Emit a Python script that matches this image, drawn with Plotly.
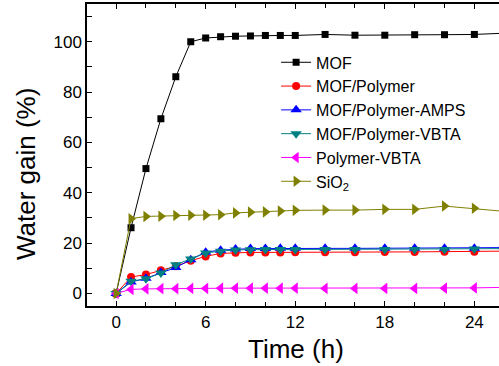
import plotly.graph_objects as go

time_h = [0, 1, 2, 3, 4, 5, 6, 7, 8, 9, 10, 11, 12, 14, 16, 18, 20, 22, 24, 26]

mof = [0, 26.1, 49.6, 69.4, 86.1, 100.0, 101.5, 102.0, 102.2, 102.3, 102.5, 102.5, 102.5, 102.9, 102.6, 102.6, 102.8, 102.8, 102.9, 103.4]
mof_polymer = [0, 6.5, 7.5, 9.2, 10.8, 13.0, 14.7, 15.9, 16.2, 16.3, 16.3, 16.3, 16.4, 16.4, 16.4, 16.5, 16.5, 16.6, 16.6, 16.8]
mof_polymer_amps = [0, 4.5, 6.0, 8.3, 10.3, 13.4, 16.4, 17.2, 17.6, 17.8, 17.8, 17.9, 17.9, 17.9, 17.9, 17.9, 17.9, 17.9, 17.9, 18.2]
mof_polymer_vbta = [0, 4.8, 5.8, 8.1, 11.4, 13.7, 16.1, 16.8, 17.3, 17.4, 17.5, 17.5, 17.5, 17.5, 17.5, 17.5, 17.5, 17.5, 17.6, 17.8]
polymer_vbta = [0, 1.6, 1.8, 1.9, 1.9, 2.0, 2.0, 2.1, 2.1, 2.1, 2.1, 2.1, 2.1, 2.0, 2.0, 2.0, 2.0, 2.1, 2.2, 2.4]
sio2 = [0, 29.7, 30.6, 30.7, 31.0, 31.1, 31.1, 31.3, 32.0, 32.3, 32.4, 32.7, 33.0, 33.1, 33.1, 33.4, 33.4, 34.7, 33.8, 32.6]

x_tick_labels = ["0", "6", "12", "18", "24"]
y_tick_labels = ["0", "20", "40", "60", "80", "100"]

series = [
    ("MOF", mof, "#000000", "square", 7),
    ("MOF/Polymer", mof_polymer, "#FF0000", "circle", 8),
    ("MOF/Polymer-AMPS", mof_polymer_amps, "#0000FF", "triangle-up", 10),
    ("MOF/Polymer-VBTA", mof_polymer_vbta, "#008080", "triangle-down", 10),
    ("Polymer-VBTA", polymer_vbta, "#FF00FF", "triangle-left", 10),
    ("SiO<sub>2</sub>", sio2, "#808000", "triangle-right", 10),
]

FONT = "Liberation Sans, Arial, sans-serif"

fig = go.Figure()
for name, vals, color, sym, sz in series:
    fig.add_trace(go.Scatter(
        x=time_h, y=vals, name=name, mode="lines+markers",
        line=dict(color=color, width=1),
        marker=dict(symbol=sym, size=sz, color=color, line=dict(width=0)),
    ))

tick_font = dict(family=FONT, size=17, color="black")

fig.update_layout(
    width=499, height=366, autosize=False,
    margin=dict(l=87, r=0, t=4, b=60),
    paper_bgcolor="white", plot_bgcolor="white",
    font=dict(family=FONT, color="black"),
    showlegend=True,
    legend=dict(
        x=0.459, y=0.863, xanchor="left", yanchor="top",
        font=dict(family=FONT, size=16, color="black"),
        bgcolor="rgba(0,0,0,0)", borderwidth=0,
        tracegroupgap=0, itemwidth=30,
    ),
    xaxis=dict(
        range=[-1.95, 25.65], tickmode="array",
        tickvals=[float(v) for v in x_tick_labels], ticktext=x_tick_labels,
        ticks="inside", ticklen=5, tickwidth=1, tickcolor="black",
        minor=dict(tickmode="linear", tick0=0, dtick=2, ticks="inside", ticklen=4, tickcolor="black", showgrid=False),
        showline=True, linecolor="black", linewidth=1.5, mirror="ticks",
        showgrid=False, zeroline=False, automargin=False,
        tickfont=tick_font,
    ),
    yaxis=dict(
        range=[-5, 115], tickmode="array",
        tickvals=[float(v) for v in y_tick_labels], ticktext=y_tick_labels,
        ticks="inside", ticklen=5, tickwidth=1, tickcolor="black",
        minor=dict(tickmode="linear", tick0=0, dtick=10, ticks="inside", ticklen=5, tickcolor="black", showgrid=False),
        showline=True, linecolor="black", linewidth=1.5, mirror=False,
        showgrid=False, zeroline=False, automargin=False,
        tickfont=tick_font,
    ),
    annotations=[
        dict(text="Time (h)", xref="paper", yref="paper", x=0.507, y=-0.142,
             xanchor="center", yanchor="middle", showarrow=False,
             font=dict(family=FONT, size=26, color="black")),
        dict(text="Water gain (%)", xref="paper", yref="paper", x=-0.148, y=0.437,
             xanchor="center", yanchor="middle", textangle=-90, showarrow=False,
             font=dict(family=FONT, size=26, color="black")),
    ],
)

fig.write_html(
    "out.html",
    config={"displayModeBar": False},
    post_script="document.body.style.margin='0';document.body.style.overflow='hidden';",
)
